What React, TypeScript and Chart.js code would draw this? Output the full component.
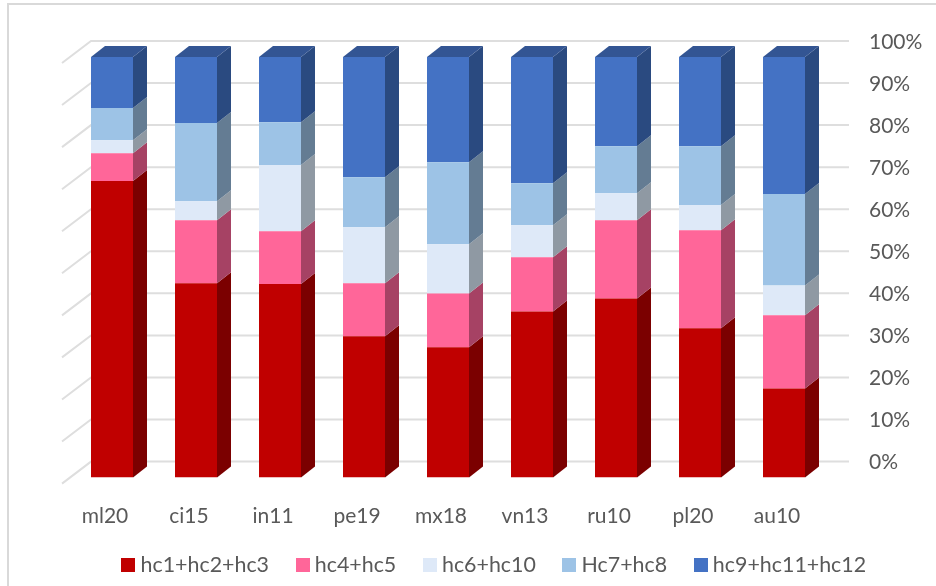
import React, { useEffect, useRef } from "react";
import { Chart, registerables } from "chart.js";

Chart.register(...registerables);

const categories = ["ml20", "ci15", "in11", "pe19", "mx18", "vn13", "ru10", "pl20", "au10"];
const hc123 = [70.5, 46.2, 46.0, 33.6, 31.0, 39.5, 42.6, 35.5, 21.2];
const hc45 = [6.6, 15.0, 12.6, 12.6, 12.8, 12.9, 18.6, 23.3, 17.4];
const hc610 = [3.1, 4.5, 15.7, 13.3, 11.7, 7.6, 6.4, 6.0, 7.1];
const hc78 = [7.7, 18.6, 10.2, 11.9, 19.5, 10.0, 11.2, 14.0, 21.7];
const hc91112 = [12.1, 15.7, 15.5, 28.6, 25.0, 30.0, 21.2, 21.2, 32.6];

const seriesNames = ["hc1+hc2+hc3", "hc4+hc5", "hc6+hc10", "Hc7+hc8", "hc9+hc11+hc12"];
const seriesValues = [hc123, hc45, hc610, hc78, hc91112];
const frontColors = ["#C00000", "#FF6699", "#DEE9F8", "#9DC3E6", "#4472C4"];
const sideColors = ["#7B0000", "#A64264", "#8F99A3", "#647C93", "#2A4A80"];
const topColor = "#335593";

const FONT = "Lato, 'Open Sans', sans-serif";
const TEXT = "#595959";
const GRID = "#DEDEDE";
const DEPTH_X = 14;
const DEPTH_Y = 11;
const WALL_X = 29;
const WALL_Y = 22;
const WALL_LIFT = 16;

// Legend swatch: a 14px square drawn wider than the slot the legend reserves,
// which pulls each label closer to its colour key.
function swatch(color: string) {
  const c = document.createElement("canvas");
  c.width = 14;
  c.height = 14;
  const g = c.getContext("2d")!;
  g.fillStyle = color;
  g.fillRect(0, 0, 14, 14);
  return c;
}

// Draws the card outline, the wall grid and the extruded faces of every bar.
const extrusion = {
  id: "extrusion",
  afterLayout(chart: any) {
    // Axis labels are clipped to their scale box, so widen the boxes to the canvas.
    chart.scales.x.bottom = chart.height;
    chart.scales.y.right = chart.width;
  },
  beforeDraw(chart: any) {
    const { ctx } = chart;
    ctx.save();
    ctx.strokeStyle = "#D9D9D9";
    ctx.lineWidth = 2;
    ctx.beginPath();
    ctx.moveTo(8, 586);
    ctx.lineTo(8, 4);
    ctx.lineTo(936, 4);
    ctx.stroke();
    ctx.restore();
  },
  beforeDatasetsDraw(chart: any) {
    const { ctx, scales } = chart;
    const left = scales.x.left + 21;
    const right = scales.x.right + 23;
    ctx.save();
    ctx.strokeStyle = GRID;
    ctx.lineWidth = 2;
    scales.y.ticks.forEach((t: any) => {
      const y = scales.y.getPixelForValue(t.value) - WALL_LIFT;
      ctx.beginPath();
      ctx.moveTo(left - WALL_X, y + WALL_Y);
      ctx.lineTo(left, y);
      ctx.lineTo(right, y);
      ctx.stroke();
    });
    chart.data.datasets.forEach((_: any, di: number) => {
      chart.getDatasetMeta(di).data.forEach((bar: any) => {
        const r = bar.x + bar.width / 2;
        const l = bar.x - bar.width / 2;
        ctx.fillStyle = sideColors[di];
        ctx.beginPath();
        ctx.moveTo(r, bar.base);
        ctx.lineTo(r + DEPTH_X, bar.base - DEPTH_Y);
        ctx.lineTo(r + DEPTH_X, bar.y - DEPTH_Y);
        ctx.lineTo(r, bar.y);
        ctx.closePath();
        ctx.fill();
        if (di === chart.data.datasets.length - 1) {
          ctx.fillStyle = topColor;
          ctx.beginPath();
          ctx.moveTo(l, bar.y);
          ctx.lineTo(l + DEPTH_X, bar.y - DEPTH_Y);
          ctx.lineTo(r + DEPTH_X, bar.y - DEPTH_Y);
          ctx.lineTo(r, bar.y);
          ctx.closePath();
          ctx.fill();
        }
      });
    });
    ctx.restore();
  },
};

export default function App() {
  const ref = useRef<HTMLCanvasElement>(null);
  useEffect(() => {
    const chart = new Chart(ref.current!, {
      type: "bar",
      data: {
        labels: categories,
        datasets: seriesNames.map((label, i) => ({
          label,
          data: seriesValues[i],
          backgroundColor: frontColors[i],
          categoryPercentage: 0.5,
          barPercentage: 1,
        })),
      },
      plugins: [extrusion],
      options: {
        responsive: false,
        animation: false,
        layout: { padding: { left: 70, right: 13, top: 57, bottom: 0 } },
        scales: {
          x: {
            stacked: true,
            grid: { display: false },
            border: { display: false },
            ticks: {
              color: TEXT,
              font: { family: FONT, size: 21 },
              labelOffset: -7,
              padding: 18,
              maxRotation: 0,
            },
            afterFit(scale: any) {
              scale.height = 45;
            },
          },
          y: {
            position: "right",
            stacked: true,
            min: 0,
            max: 100,
            grid: { display: false, drawTicks: false },
            border: { display: false },
            ticks: {
              stepSize: 10,
              color: TEXT,
              font: { family: FONT, size: 21 },
              padding: 43,
              labelOffset: -15,
              callback: (v: any) => `${v}%`,
            },
            afterFit(scale: any) {
              scale.width = 97;
            },
          },
        },
        plugins: {
          title: { display: false },
          tooltip: { enabled: false },
          legend: {
            position: "bottom",
            labels: {
              usePointStyle: true,
              pointStyleWidth: 3,
              padding: 32,
              color: TEXT,
              font: { family: FONT, size: 21.4 },
              generateLabels: () =>
                seriesNames.map((text, i) => ({
                  text,
                  fontColor: TEXT,
                  fillStyle: frontColors[i],
                  strokeStyle: frontColors[i],
                  pointStyle: swatch(frontColors[i]),
                  datasetIndex: i,
                })),
            },
          },
        },
      },
    } as any);
    return () => chart.destroy();
  }, []);
  return (
    <div style={{ position: "absolute", left: 0, top: 0, width: 936, height: 586, background: "#fff" }}>
      <canvas ref={ref} width={936} height={586} style={{ display: "block" }} />
    </div>
  );
}
